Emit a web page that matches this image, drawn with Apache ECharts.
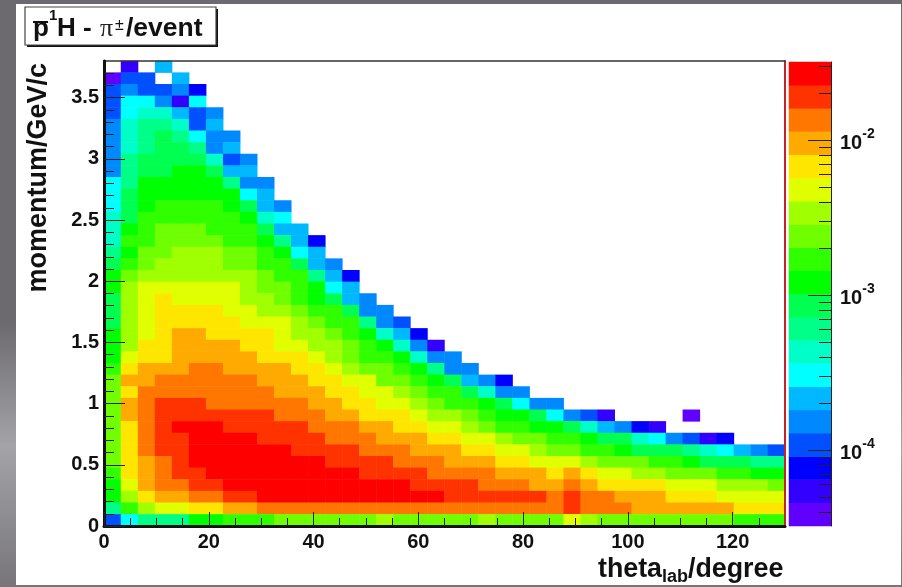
<!DOCTYPE html>
<html><head><meta charset="utf-8">
<style>
html,body{margin:0;padding:0;width:902px;height:587px;overflow:hidden;
background:linear-gradient(to bottom,#6c6a6e 0,#6c6a6e 55%,#a4a4a8 76%,#77757a 100%);}
#c{width:902px;height:587px;}
</style>
<script src="https://cdn.jsdelivr.net/npm/echarts@6/dist/echarts.min.js"></script>
</head><body><div id="c"></div>
<script>
const n = null;
// colour levels (0 = lowest, 19 = highest); index 0 = top row, each row from theta=0
const levelRows = [
[n,1,n,5],
[0,3,3,n,5],
[3,4,3,3,4,2],
[3,6,6,4,1,6],
[3,6,7,7,5,3,4],
[4,7,8,8,7,3,5],
[4,7,8,9,8,6,4,4],
[4,7,8,9,9,8,4,5],
[4,8,9,9,9,9,7,3,4],
[4,8,9,9,10,10,9,5,5],
[6,8,10,10,10,10,10,8,4,4],
[6,9,10,10,10,10,10,10,6,5],
[6,9,10,11,11,11,11,10,9,5,4],
[7,9,11,11,11,11,11,11,10,7,6],
[7,10,11,12,12,12,11,11,11,9,5,5],
[7,11,11,12,12,12,12,11,11,10,8,5,2],
[8,10,12,12,13,13,13,12,12,11,10,6,5],
[9,11,12,13,13,13,13,12,12,11,11,9,5,4],
[10,12,13,13,13,13,13,13,13,12,11,11,8,5,2],
[10,13,14,14,14,14,14,14,13,12,12,11,10,6,5],
[9,13,14,15,14,14,14,14,13,13,12,11,10,9,5,4],
[9,13,14,15,15,15,15,14,14,13,13,12,11,11,9,4,4],
[9,13,14,15,15,15,15,15,14,14,14,13,12,11,11,8,4,3],
[10,13,14,15,16,16,15,15,15,15,14,13,13,12,11,10,7,5,2],
[10,13,15,15,16,16,16,16,15,15,14,14,13,13,12,11,10,7,4,1],
[10,14,15,15,16,16,16,16,16,15,15,15,14,13,12,11,11,10,7,4,4],
[11,15,16,16,16,17,17,16,16,16,16,15,15,14,13,12,12,11,10,8,4,4],
[12,16,16,17,17,17,17,17,17,16,16,16,15,15,14,14,12,12,11,10,9,5,4,2],
[12,15,17,17,17,17,17,17,17,17,16,16,16,15,15,14,14,13,12,11,11,9,7,4,4],
[12,16,17,18,18,18,17,17,17,17,17,17,16,16,15,15,14,14,13,12,11,11,10,9,6,4,4],
[12,16,17,18,18,18,18,18,18,18,17,17,17,16,16,15,15,15,14,13,13,12,11,10,10,9,6,4,3,1,n,n,n,n,0],
[12,15,17,18,19,19,19,18,18,18,18,18,17,17,17,16,16,15,15,14,14,13,12,11,11,10,10,9,7,5,4,2,1],
[12,15,17,18,18,19,19,19,19,18,18,18,18,17,17,17,16,16,16,15,15,14,14,13,12,12,11,11,10,9,9,7,6,4,3,1,2],
[12,15,17,18,18,19,19,19,19,19,19,18,18,18,18,17,17,17,16,16,16,15,15,14,14,13,12,12,11,11,10,9,9,9,8,7,6,5,4,3],
[12,15,16,17,18,19,19,19,19,19,19,19,19,18,18,18,18,17,17,17,16,16,16,15,15,14,14,14,13,12,12,12,11,11,10,9,9,9,8,8],
[11,15,16,17,18,18,19,19,19,19,19,19,19,19,19,18,18,18,18,17,17,17,17,16,16,16,15,16,15,14,14,13,13,12,12,12,11,11,10,10],
[10,14,16,17,17,18,18,19,19,19,19,19,19,19,19,19,19,19,18,18,18,18,17,17,17,16,16,17,16,15,15,15,15,14,14,14,13,13,13,12],
[10,13,15,16,16,17,17,18,18,19,19,19,19,19,19,19,19,19,19,19,18,18,18,18,18,18,17,18,17,17,16,16,16,15,15,15,14,14,14,14],
[8,11,13,14,14,15,15,16,16,17,17,17,17,17,17,17,17,17,17,17,17,17,17,17,17,17,17,18,17,17,17,16,16,16,16,16,16,15,15,15],
[3,6,8,8,8,10,10,11,11,11,12,12,12,12,12,12,13,12,12,12,12,12,13,12,12,12,12,14,13,12,12,12,12,12,12,12,12,11,11,11]
];
const palette = ['#6000ff','#3300ff','#0000ff','#0050ff','#0088ff','#00b8ff','#00ffff','#00ffc8','#00ff88','#00ff50',
                 '#00ff00','#30ff00','#70ff00','#a0ff00','#e0ff00','#ffe600','#ffaa00','#ff7700','#ff3300','#ff0000'];
const xTicks = [0,20,40,60,80,100,120];
const xMinor = [5,10,15,25,30,35,45,50,55,65,70,75,85,90,95,105,110,115,125];
const yTicks = [0,0.5,1,1.5,2,2.5,3,3.5];
const yMinor = [0.1,0.2,0.3,0.4,0.6,0.7,0.8,0.9,1.1,1.2,1.3,1.4,1.6,1.7,1.8,1.9,2.1,2.2,2.3,2.4,2.6,2.7,2.8,2.9,3.1,3.2,3.3,3.4,3.6,3.7];
const zDecades = [-4,-3,-2];
const zMinorValues = [4e-5,5e-5,6e-5,7e-5,8e-5,9e-5,2e-4,3e-4,4e-4,5e-4,6e-4,7e-4,8e-4,9e-4,2e-3,3e-3,4e-3,5e-3,6e-3,7e-3,8e-3,9e-3,2e-2,3e-2];
const zLogMin = -4.488, zLogMax = -1.495;
const xMax = 130, yMax = 3.8, bins = 40;

const xCats = Array.from({length:bins},(_, i)=>String(i));
const yCats = Array.from({length:bins},(_, i)=>String(i));
const cells = [];
levelRows.forEach((row,r)=>row.forEach((lv,c)=>{ if(lv!==null) cells.push([c,bins-1-r,lv]); }));
const barCats = palette.map((_,i)=>String(i));
const barCells = palette.map((_,i)=>[0,i,i]);

const FF = 'Liberation Sans';
const F = '"Liberation Sans",Arial,sans-serif';
const txt = (x,base,text,size,extra)=>({type:'text',z:20,style:Object.assign({x,y:base-0.85*size,text,font:`bold ${size}px ${F}`,fill:'#111'},extra||{})});

const chart = echarts.init(document.getElementById('c'),null,{renderer:'canvas'});
chart.setOption({
  animation:false,
  backgroundColor:'transparent',
  tooltip:{show:false},
  graphic:[
    {type:'rect',z:-10,shape:{x:16,y:4,width:885,height:581},style:{fill:'#fff'}},
    {type:'rect',z:18,shape:{x:27,y:9,width:191,height:38},style:{fill:'#111'}},
    {type:'rect',z:19,shape:{x:25,y:7,width:191,height:38},style:{fill:'#fff',stroke:'#444',lineWidth:1.2}},
    {type:'rect',z:20,shape:{x:33,y:21,width:15,height:2},style:{fill:'#111'}},
    txt(33,38,'p',26),
    txt(49,21,'1',15),
    txt(57,38,'H',26),
    txt(83,38,'-',26),
    txt(100,38,'\u03c0',26,{font:`26px "Liberation Serif",serif`,fill:'#222'}),
    txt(115,31,'\u00b1',16,{font:`16px ${F}`}),
    txt(126,38,'/event',26.5)
  ],
  visualMap:{type:'piecewise',show:false,dimension:2,seriesIndex:[0,1],
    pieces:palette.map((color,value)=>({value,color}))},
  grid:[
    {left:104,top:61,width:681,height:465,outerBoundsMode:'none'},
    {left:789,top:62,width:42,height:464,outerBoundsMode:'none'}
  ],
  xAxis:[
    {gridIndex:0,type:'category',data:xCats,position:'top',z:6,
      axisLine:{show:true,onZero:false,lineStyle:{color:'#333',width:1.5}},axisTick:{show:false},axisLabel:{show:false},splitLine:{show:false}},
    {gridIndex:0,type:'value',min:0,max:xMax,position:'bottom',z:7,
      name:'{m|theta}{s|lab}{m|/degree}',nameLocation:'end',nameGap:-187,
      nameTextStyle:{align:'left',verticalAlign:'top',padding:[30,0,0,0],
        rich:{m:{fontFamily:FF,fontWeight:'bold',fontSize:26.8,color:'#111',lineHeight:30,verticalAlign:'top'},
              s:{fontFamily:FF,fontWeight:'bold',fontSize:18,color:'#111',verticalAlign:'bottom',lineHeight:20,padding:[14,0,0,0]}}},
      axisLine:{show:true,onZero:false,lineStyle:{color:'#111',width:3}},
      axisTick:{show:true,inside:true,length:14,customValues:xTicks,lineStyle:{color:'#222',width:1}},
      axisLabel:{show:true,customValues:xTicks,margin:6,fontFamily:FF,fontWeight:'bold',fontSize:20,color:'#111'},
      splitLine:{show:false}},
    {gridIndex:0,type:'value',min:0,max:xMax,position:'bottom',z:7,
      axisLine:{show:false,onZero:false},
      axisTick:{show:true,inside:true,length:8,customValues:xMinor,lineStyle:{color:'#222',width:1}},
      axisLabel:{show:false},splitLine:{show:false}},
    {gridIndex:1,type:'category',data:['0'],show:false}
  ],
  yAxis:[
    {gridIndex:0,type:'category',data:yCats,position:'right',z:6,
      axisLine:{show:true,onZero:false,lineStyle:{color:'#c8202a',width:2}},axisTick:{show:false},axisLabel:{show:false},splitLine:{show:false}},
    {gridIndex:0,type:'value',min:0,max:yMax,position:'left',z:7,
      name:'momentum/GeV/c',nameLocation:'end',nameRotate:90,nameGap:-2,
      nameTextStyle:{fontFamily:FF,fontWeight:'bold',fontSize:27,color:'#111',align:'right',verticalAlign:'bottom',padding:[0,0,52,0]},
      axisLine:{show:true,onZero:false,lineStyle:{color:'#111',width:3}},
      axisTick:{show:true,inside:true,length:21,customValues:yTicks,lineStyle:{color:'#222',width:1}},
      axisLabel:{show:true,customValues:yTicks,margin:5,fontFamily:FF,fontWeight:'bold',fontSize:20,color:'#111'},
      splitLine:{show:false}},
    {gridIndex:0,type:'value',min:0,max:yMax,position:'left',z:7,
      axisLine:{show:false,onZero:false},
      axisTick:{show:true,inside:true,length:10,customValues:yMinor,lineStyle:{color:'#222',width:1}},
      axisLabel:{show:false},splitLine:{show:false}},
    {gridIndex:1,type:'category',data:barCats,show:false},
    {gridIndex:1,type:'value',min:zLogMin,max:zLogMax,position:'right',z:7,
      axisLine:{show:true,onZero:false,lineStyle:{color:'#222',width:1}},
      axisTick:{show:true,inside:true,length:23,customValues:zDecades,lineStyle:{color:'#222',width:1}},
      axisLabel:{show:true,customValues:zDecades,margin:9,
        formatter:v=>`{b|10}{s|${v}}`,
        rich:{b:{fontFamily:FF,fontWeight:'bold',fontSize:20,color:'#111',verticalAlign:'bottom',lineHeight:26},
              s:{fontFamily:FF,fontWeight:'bold',fontSize:14,color:'#111',verticalAlign:'top',lineHeight:26}}},
      splitLine:{show:false}},
    {gridIndex:1,type:'value',min:zLogMin,max:zLogMax,position:'right',z:7,
      axisLine:{show:false,onZero:false},
      axisTick:{show:true,inside:true,length:12,customValues:zMinorValues.map(v=>Math.log10(v)),lineStyle:{color:'#222',width:1}},
      axisLabel:{show:false},splitLine:{show:false}}
  ],
  series:[
    {type:'heatmap',xAxisIndex:0,yAxisIndex:0,data:cells,progressive:0,silent:true,emphasis:{disabled:true},itemStyle:{borderWidth:0}},
    {type:'heatmap',xAxisIndex:3,yAxisIndex:3,data:barCells,progressive:0,silent:true,emphasis:{disabled:true},itemStyle:{borderWidth:0}}
  ]
});
</script></body></html>
